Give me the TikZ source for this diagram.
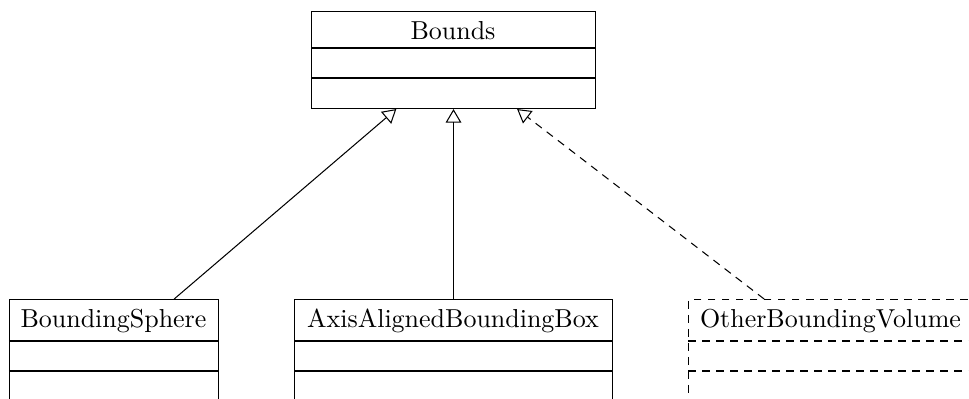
\documentclass[tikz,border=0pt]{standalone}
\usetikzlibrary{arrows.meta}
\begin{document}
\begin{tikzpicture}[x=0.385pt,y=-0.385pt, line width=0.4pt,
  cls/.style={draw, inner sep=0pt, anchor=north west},
  lbl/.style={inner sep=0pt, anchor=base},
  sep/.style={draw},
  inherit/.style={-{Triangle[open,length=5.2pt,width=6pt]}},
  dsh/.style={dash pattern=on 3pt off 2.4pt}]
\useasboundingbox (0,0) rectangle (969,399);
\clip (0,0) rectangle (969,399);
% Bounds
\node[cls, minimum width={284*0.385pt}, minimum height={97*0.385pt}] (bounds) at (311,11) {};
\node[lbl] (boundsname) at (453,39) {Bounds};
\draw[sep] (311,48) -- (595,48);
\draw[sep] (311,78) -- (595,78);
% BoundingSphere
\node[cls, minimum width={209*0.385pt}, minimum height={102*0.385pt}] (bs) at (9,299) {};
\node[lbl] (bsname) at (113.5,327) {BoundingSphere};
\draw[sep] (9,341) -- (218,341);
\draw[sep] (9,371) -- (218,371);
% AxisAlignedBoundingBox
\node[cls, minimum width={318*0.385pt}, minimum height={102*0.385pt}] (aabb) at (294,299) {};
\node[lbl] (aabbname) at (453,327) {AxisAlignedBoundingBox};
\draw[sep] (294,341) -- (612,341);
\draw[sep] (294,371) -- (612,371);
% OtherBoundingVolume
\node[cls, dsh, minimum width={285*0.385pt}, minimum height={102*0.385pt}] (obv) at (688,299) {};
\node[lbl] (obvname) at (830.5,327) {OtherBoundingVolume};
\draw[sep, dsh] (688,341) -- (973,341);
\draw[sep, dsh] (688,371) -- (973,371);
% connectors
\draw[inherit] (bs) -- (bounds);
\draw[inherit] (aabb) -- (bounds);
\draw[inherit, dsh] (obv) -- (bounds);
\end{tikzpicture}
\end{document}
